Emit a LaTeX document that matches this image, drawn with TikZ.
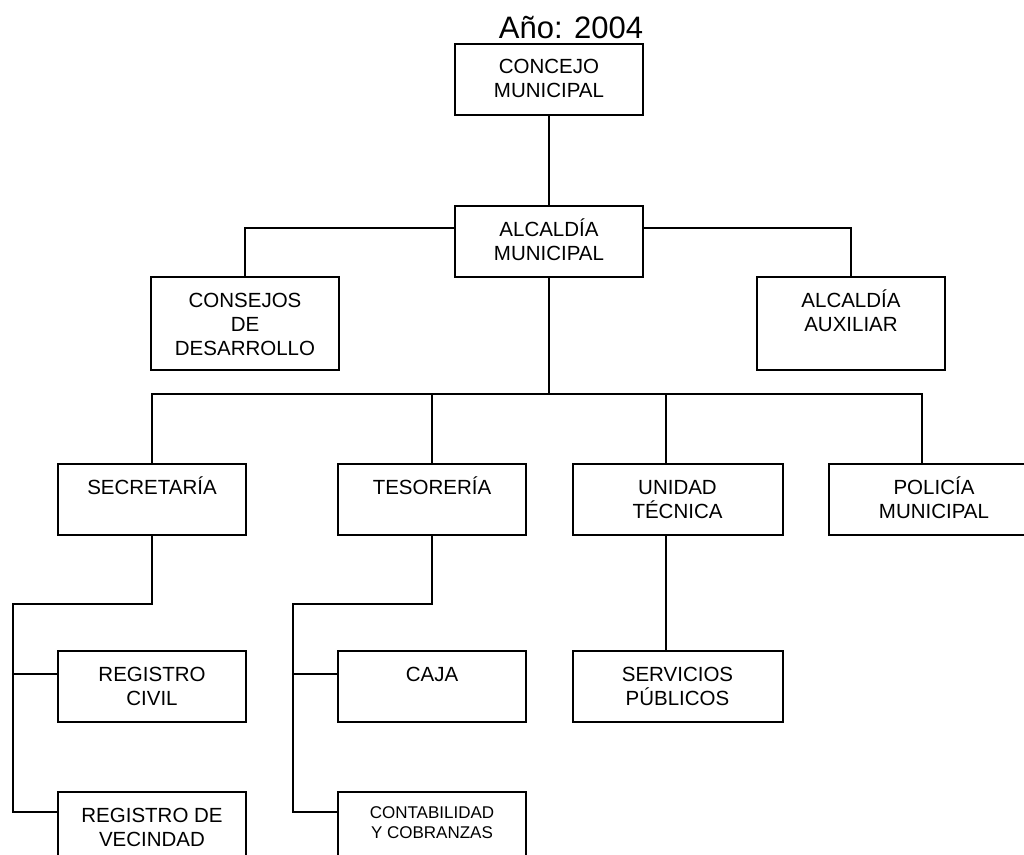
\documentclass[tikz,border=0pt]{standalone}
\usepackage{fontspec}
\setmainfont{Liberation Sans}
\newcommand\tstrut{\rule{0pt}{20pt}}
\begin{document}
\begin{tikzpicture}[x=1pt,y=-1pt,
  box/.style={draw, line width=2pt, minimum width=188pt, minimum height=71pt, inner sep=0pt},
  wbox/.style={box, minimum width=210pt},
  tbox/.style={box, minimum height=93pt},
  labbase/.style={anchor=north, inner sep=0pt, align=center},
  lab/.style={labbase, font=\fontsize{20.5}{24}\selectfont, yshift=-11pt},
  slab/.style={labbase, font=\fontsize{17}{20.7}\selectfont, yshift=-7pt},
  con/.style={line width=2pt}]
\useasboundingbox (0,0) rectangle (1024,854);

\node[anchor=base, inner sep=0pt, font=\fontsize{31}{36}\selectfont] (anio) at (571,38) {Año: 2004};

\node[box, label={[lab]north:\tstrut CONCEJO\\MUNICIPAL}] (concejo) at (549,79) {};
\node[box, label={[lab]north:\tstrut ALCALDÍA\\MUNICIPAL}] (alcaldia) at (549,241.5) {};
\node[tbox, label={[lab]north:\tstrut CONSEJOS\\DE\\DESARROLLO}] (consejos) at (245,323.5) {};
\node[tbox, label={[lab]north:\tstrut ALCALDÍA\\AUXILIAR}] (auxiliar) at (851,323.5) {};

\node[box, label={[lab]north:\tstrut SECRETARÍA}] (sec) at (152,499.5) {};
\node[box, label={[lab]north:\tstrut TESORERÍA}] (tes) at (432,499.5) {};
\node[wbox, label={[lab]north:\tstrut UNIDAD\\TÉCNICA}] (uni) at (677.5,499.5) {};
\node[wbox, label={[lab]north:\tstrut POLICÍA\\MUNICIPAL}] (pol) at (934,499.5) {};

\node[box, label={[lab]north:\tstrut REGISTRO\\CIVIL}] (rc) at (152,686.5) {};
\node[box, label={[lab]north:\tstrut CAJA}] (caja) at (432,686.5) {};
\node[wbox, label={[lab]north:\tstrut SERVICIOS\\PÚBLICOS}] (serv) at (677.5,686.5) {};
\node[box, label={[lab]north:\tstrut REGISTRO DE\\VECINDAD}] (rv) at (152,827.5) {};
\node[box, label={[slab]north:\tstrut CONTABILIDAD\\Y COBRANZAS}] (conta) at (432,827.5) {};

\coordinate (bus) at (549,394);
\coordinate (secL) at (12.5,604);
\coordinate (tesL) at (293,604);

\draw[con] (concejo.south) -- (alcaldia.north);
\draw[con] ([yshift=-23pt]alcaldia.north west) -| (consejos.north);
\draw[con] ([yshift=-23pt]alcaldia.north east) -| (auxiliar.north);
\draw[con] (alcaldia.south) -- (bus);
\draw[con] (sec.north) -- (sec.north |- bus) -- ([xshift=-12pt]pol.north |- bus) -- ([xshift=-12pt]pol.north);
\draw[con] (tes.north) -- (tes.north |- bus);
\draw[con] ([xshift=-11.5pt]uni.north) -- ([xshift=-11.5pt]uni.north |- bus);
\draw[con] ([xshift=-11.5pt]uni.south) -- ([xshift=-11.5pt]serv.north);

\draw[con] (sec.south) |- (secL) |- ([yshift=-24pt]rc.north west);
\draw[con] (secL) |- ([yshift=-21pt]rv.north west);
\draw[con] (tes.south) |- (tesL) |- ([yshift=-24pt]caja.north west);
\draw[con] (tesL) |- ([yshift=-21pt]conta.north west);
\end{tikzpicture}
\end{document}
